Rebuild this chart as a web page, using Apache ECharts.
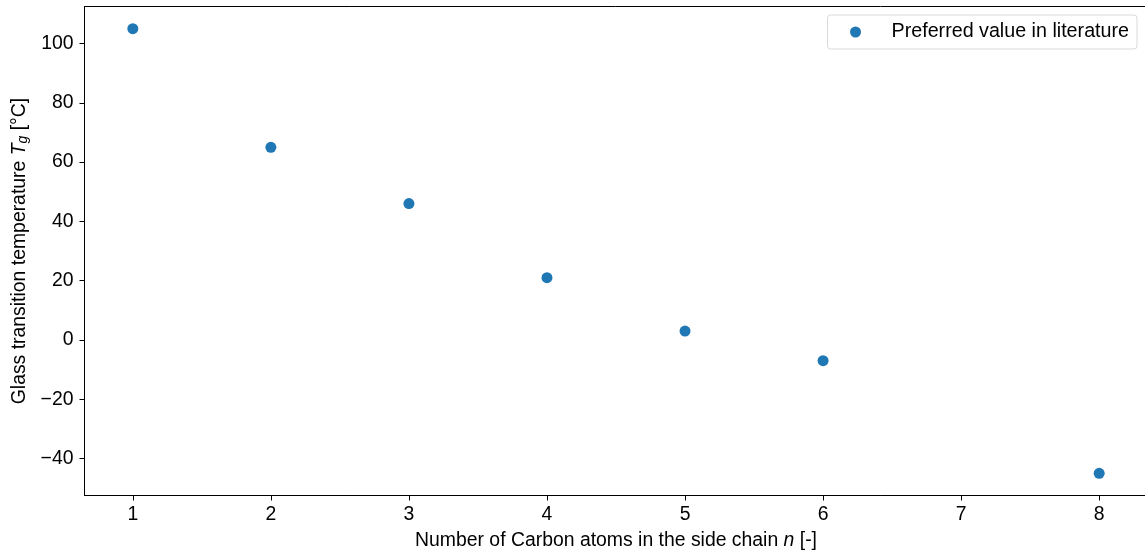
<!DOCTYPE html>
<html>
<head>
<meta charset="utf-8">
<script src="https://cdn.jsdelivr.net/npm/echarts@6/dist/echarts.min.js"></script>
<style>html,body{margin:0;padding:0;background:#fff;}#c{width:1145px;height:558px;}</style>
</head>
<body>
<div id="c"></div>
<script>
const carbonAtoms = [1, 2, 3, 4, 5, 6, 8];
const tgValues = [105, 65, 46, 21, 3, -7, -45];
const xTicks = [1, 2, 3, 4, 5, 6, 7, 8];
const yTicks = [-40, -20, 0, 20, 40, 60, 80, 100];
const seriesName = 'Preferred value in literature';

const FONT = '"Liberation Sans", Arial, sans-serif';
const FS = 19.4;
const chart = echarts.init(document.getElementById('c'), null, {renderer: 'canvas'});
const fmt = v => String(v).replace('-', '\u2212');
chart.setOption({
  animation: false,
  backgroundColor: '#fff',
  grid: {left: 84.5, width: 1063, top: 6.5, bottom: 62.5, show: true, borderColor: '#000', borderWidth: 1, containLabel: false, outerBoundsMode: 'none'},
  legend: {
    right: 8, top: 15, orient: 'vertical',
    data: [seriesName],
    itemWidth: 11, itemHeight: 11, itemGap: 5,
    padding: [7, 8, 7, 22.5],
    borderColor: '#d9d9d9', borderWidth: 1, borderRadius: 3,
    backgroundColor: '#fff',
    textStyle: {fontFamily: FONT, fontSize: 19.7, color: '#000', padding: [0, 0, 0, 25.5]}
  },
  xAxis: {
    type: 'value', min: 0.65, max: 8.35,
    name: '{a|Number of Carbon atoms in the side chain }{i|n}{a| [-]}',
    nameLocation: 'middle', nameGap: 36,
    nameTextStyle: {rich: {a: {fontFamily: FONT, fontSize: FS, color: '#000'}, i: {fontFamily: FONT, fontSize: FS, fontStyle: 'italic', color: '#000'}}},
    axisLine: {show: true, onZero: false, lineStyle: {color: '#000', width: 1}},
    axisTick: {show: true, inside: false, length: 5, lineStyle: {color: '#000'}, customValues: xTicks},
    axisLabel: {customValues: xTicks, margin: 10, fontFamily: FONT, fontSize: FS, color: '#000', formatter: fmt},
    splitLine: {show: false}
  },
  yAxis: {
    type: 'value', min: -52.5, max: 112.5,
    name: '{a|Glass transition temperature }{i|T}{s|g}{a| [°C]}',
    nameLocation: 'middle', nameGap: 52, nameRotate: 90,
    nameTextStyle: {rich: {
      a: {fontFamily: FONT, fontSize: FS, color: '#000'},
      i: {fontFamily: FONT, fontSize: FS, fontStyle: 'italic', color: '#000'},
      s: {fontFamily: FONT, fontSize: 14, fontStyle: 'italic', color: '#000', padding: [7, 0, 0, 0]}
    }},
    axisLine: {show: true, onZero: false, lineStyle: {color: '#000', width: 1}},
    axisTick: {show: true, inside: false, length: 5, lineStyle: {color: '#000'}, customValues: yTicks},
    axisLabel: {customValues: yTicks, margin: 11, fontFamily: FONT, fontSize: FS, color: '#000', formatter: fmt},
    splitLine: {show: false}
  },
  series: [{
    name: seriesName, type: 'scatter',
    data: carbonAtoms.map((x, i) => [x, tgValues[i]]),
    symbol: 'circle', symbolSize: 11,
    itemStyle: {color: '#1f77b4', opacity: 1}
  }]
});
</script>
</body>
</html>
